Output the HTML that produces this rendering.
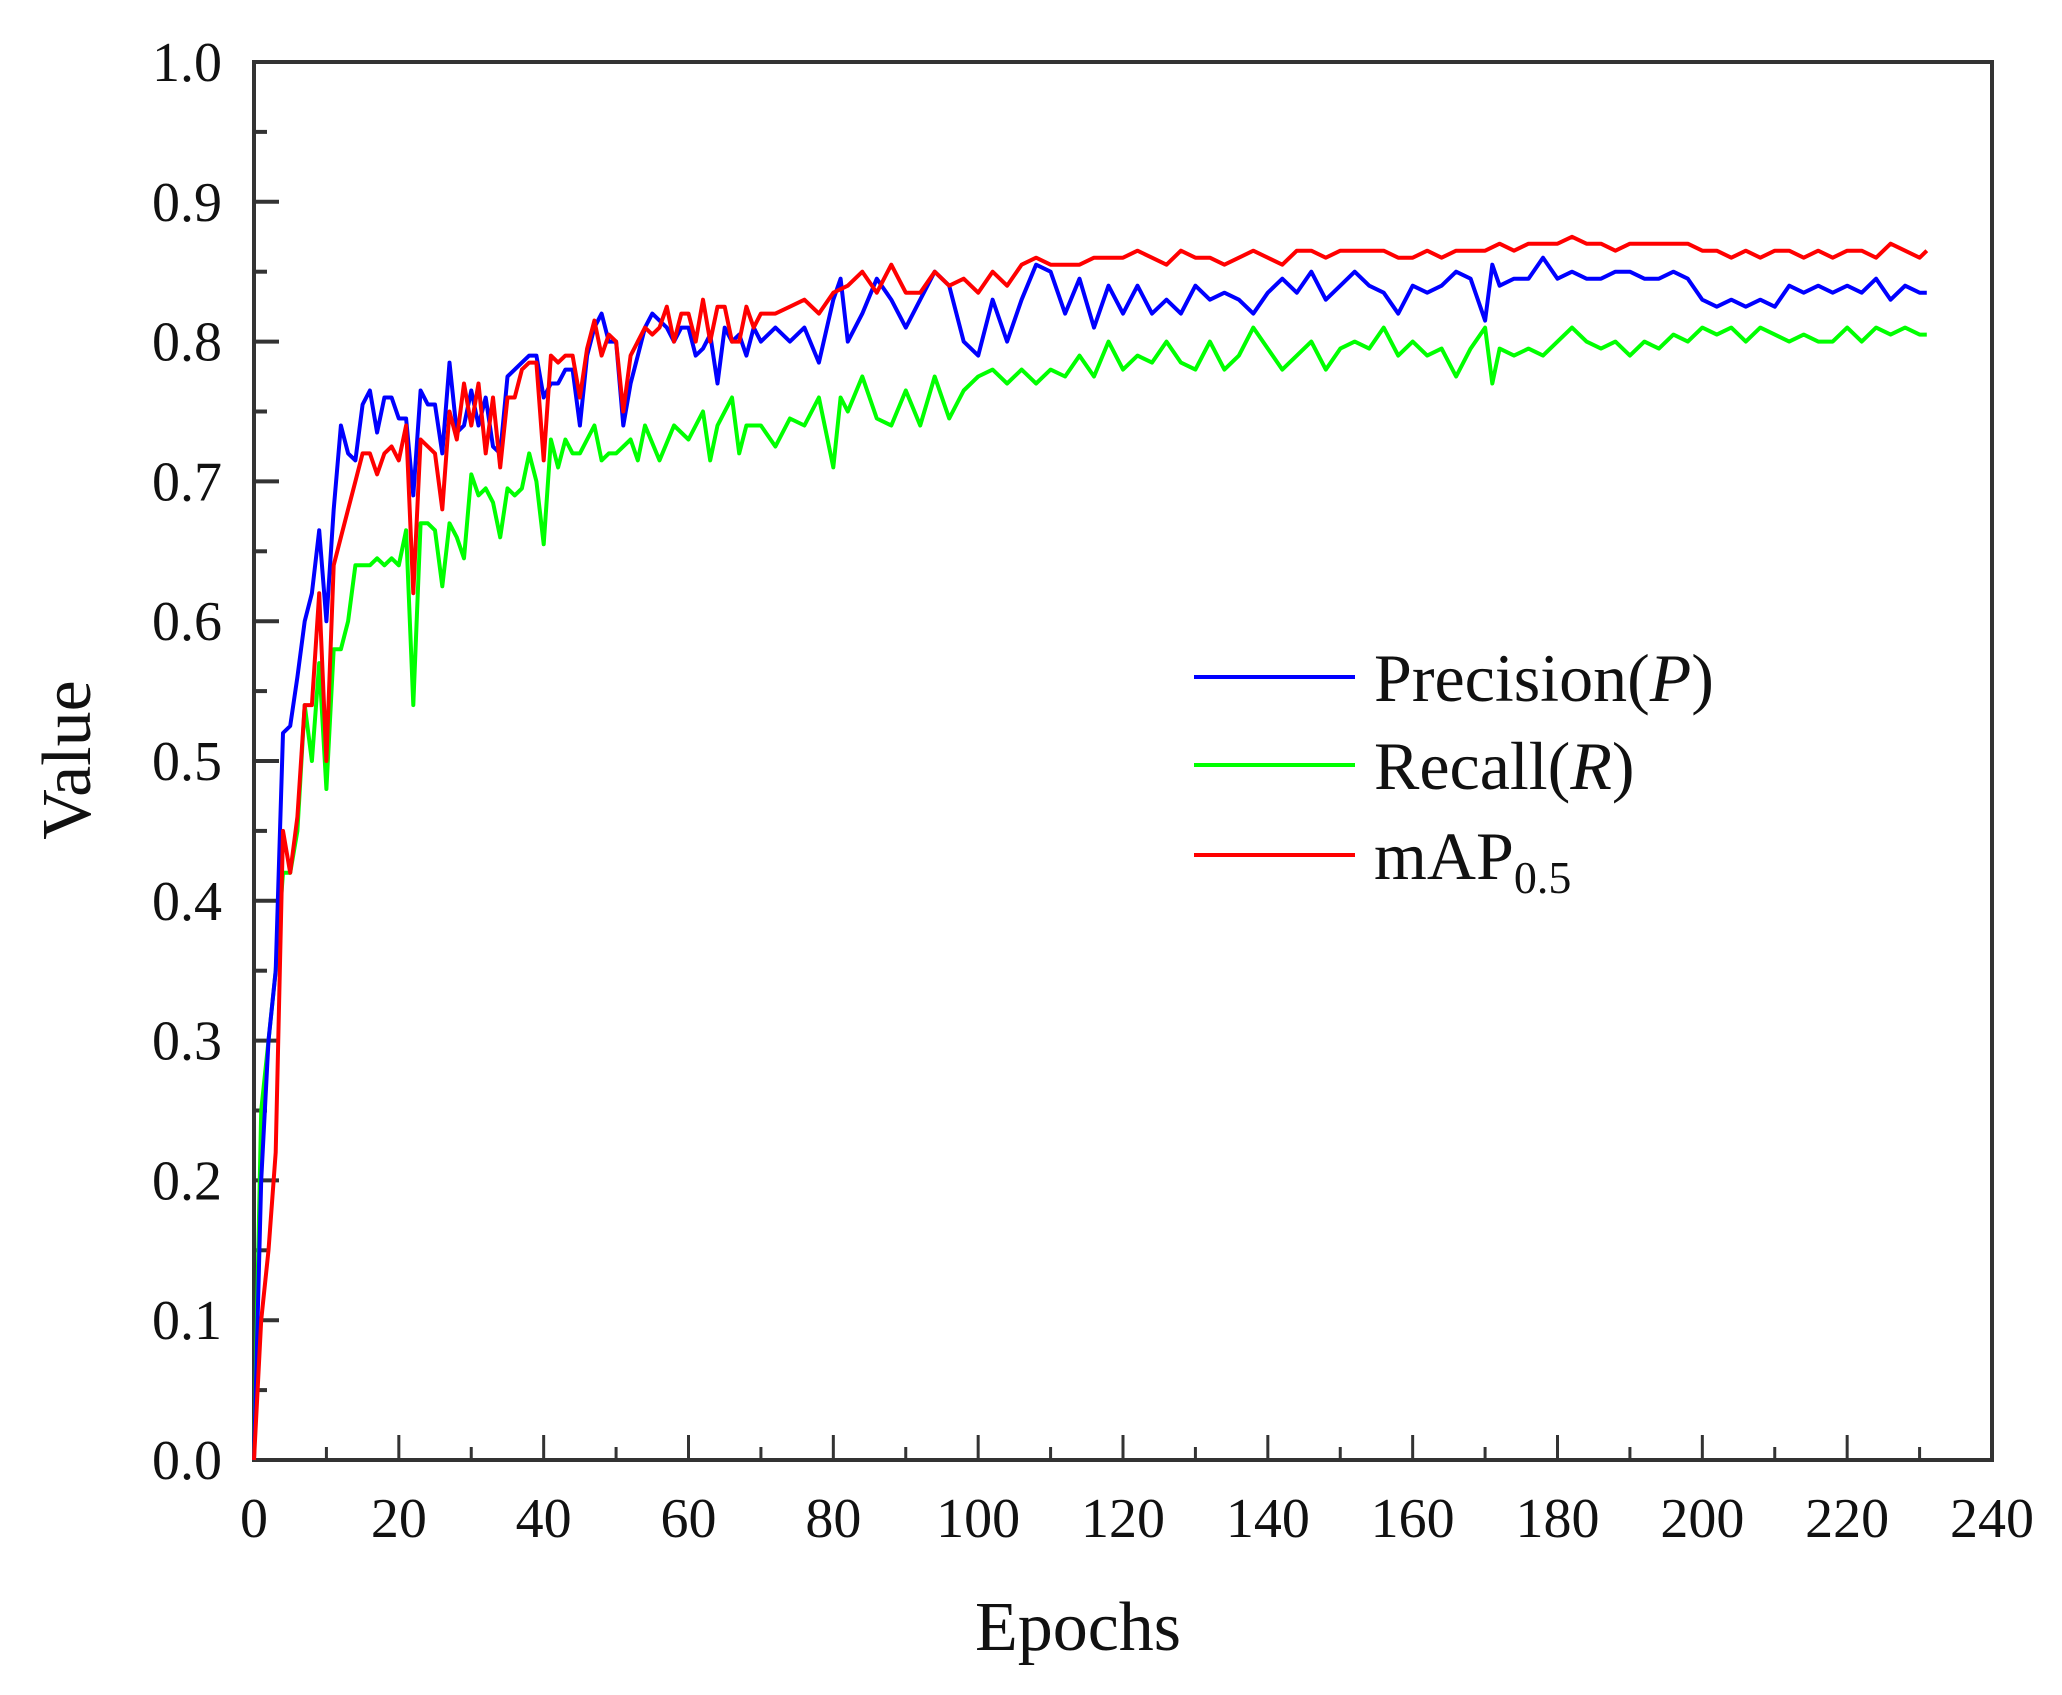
<!DOCTYPE html>
<html><head><meta charset="utf-8"><style>
html,body{margin:0;padding:0;background:#fff;}
svg{display:block;font-family:"Liberation Serif",serif;}
</style></head><body>
<svg id="chart" width="2062" height="1695" viewBox="0 0 2062 1695">
<g id="axes"></g>
<g id="series"></g>
<g id="legend"></g>
</svg>
<script>
const xTicks = [0,20,40,60,80,100,120,140,160,180,200,220,240];
const yTicks = [0.0,0.1,0.2,0.3,0.4,0.5,0.6,0.7,0.8,0.9,1.0];
const yTickLabels = ["0.0","0.1","0.2","0.3","0.4","0.5","0.6","0.7","0.8","0.9","1.0"];
const seriesNames = ["Precision(P)","Recall(R)","mAP0.5"];
const precision = [[0,0.0],[1,0.2],[2,0.3],[3,0.35],[4,0.52],[5,0.525],[6,0.56],[7,0.6],[8,0.62],[9,0.665],[10,0.6],[11,0.68],[12,0.74],[13,0.72],[14,0.715],[15,0.755],[16,0.765],[17,0.735],[18,0.76],[19,0.76],[20,0.745],[21,0.745],[22,0.69],[23,0.765],[24,0.755],[25,0.755],[26,0.72],[27,0.785],[28,0.735],[29,0.74],[30,0.765],[31,0.74],[32,0.76],[33,0.725],[34,0.72],[35,0.775],[36,0.78],[37,0.785],[38,0.79],[39,0.79],[40,0.76],[41,0.77],[42,0.77],[43,0.78],[44,0.78],[45,0.74],[46,0.79],[47,0.81],[48,0.82],[49,0.8],[50,0.8],[51,0.74],[52,0.77],[53,0.79],[54,0.81],[55,0.82],[56,0.815],[57,0.81],[58,0.8],[59,0.81],[60,0.81],[61,0.79],[62,0.795],[63,0.805],[64,0.77],[65,0.81],[66,0.8],[67,0.805],[68,0.79],[69,0.81],[70,0.8],[72,0.81],[74,0.8],[76,0.81],[78,0.785],[80,0.83],[81,0.845],[82,0.8],[84,0.82],[86,0.845],[88,0.83],[90,0.81],[92,0.83],[94,0.85],[96,0.84],[98,0.8],[100,0.79],[102,0.83],[104,0.8],[106,0.83],[108,0.855],[110,0.85],[112,0.82],[114,0.845],[116,0.81],[118,0.84],[120,0.82],[122,0.84],[124,0.82],[126,0.83],[128,0.82],[130,0.84],[132,0.83],[134,0.835],[136,0.83],[138,0.82],[140,0.835],[142,0.845],[144,0.835],[146,0.85],[148,0.83],[150,0.84],[152,0.85],[154,0.84],[156,0.835],[158,0.82],[160,0.84],[162,0.835],[164,0.84],[166,0.85],[168,0.845],[170,0.815],[171,0.855],[172,0.84],[174,0.845],[176,0.845],[178,0.86],[180,0.845],[182,0.85],[184,0.845],[186,0.845],[188,0.85],[190,0.85],[192,0.845],[194,0.845],[196,0.85],[198,0.845],[200,0.83],[202,0.825],[204,0.83],[206,0.825],[208,0.83],[210,0.825],[212,0.84],[214,0.835],[216,0.84],[218,0.835],[220,0.84],[222,0.835],[224,0.845],[226,0.83],[228,0.84],[230,0.835],[231,0.835]];
const recall = [[0,0.0],[1,0.25],[2,0.3],[3,0.35],[4,0.42],[5,0.42],[6,0.45],[7,0.54],[8,0.5],[9,0.57],[10,0.48],[11,0.58],[12,0.58],[13,0.6],[14,0.64],[15,0.64],[16,0.64],[17,0.645],[18,0.64],[19,0.645],[20,0.64],[21,0.665],[22,0.54],[23,0.67],[24,0.67],[25,0.665],[26,0.625],[27,0.67],[28,0.66],[29,0.645],[30,0.705],[31,0.69],[32,0.695],[33,0.685],[34,0.66],[35,0.695],[36,0.69],[37,0.695],[38,0.72],[39,0.7],[40,0.655],[41,0.73],[42,0.71],[43,0.73],[44,0.72],[45,0.72],[46,0.73],[47,0.74],[48,0.715],[49,0.72],[50,0.72],[52,0.73],[53,0.715],[54,0.74],[56,0.715],[58,0.74],[60,0.73],[62,0.75],[63,0.715],[64,0.74],[66,0.76],[67,0.72],[68,0.74],[70,0.74],[72,0.725],[74,0.745],[76,0.74],[78,0.76],[80,0.71],[81,0.76],[82,0.75],[84,0.775],[86,0.745],[88,0.74],[90,0.765],[92,0.74],[94,0.775],[96,0.745],[98,0.765],[100,0.775],[102,0.78],[104,0.77],[106,0.78],[108,0.77],[110,0.78],[112,0.775],[114,0.79],[116,0.775],[118,0.8],[120,0.78],[122,0.79],[124,0.785],[126,0.8],[128,0.785],[130,0.78],[132,0.8],[134,0.78],[136,0.79],[138,0.81],[140,0.795],[142,0.78],[144,0.79],[146,0.8],[148,0.78],[150,0.795],[152,0.8],[154,0.795],[156,0.81],[158,0.79],[160,0.8],[162,0.79],[164,0.795],[166,0.775],[168,0.795],[170,0.81],[171,0.77],[172,0.795],[174,0.79],[176,0.795],[178,0.79],[180,0.8],[182,0.81],[184,0.8],[186,0.795],[188,0.8],[190,0.79],[192,0.8],[194,0.795],[196,0.805],[198,0.8],[200,0.81],[202,0.805],[204,0.81],[206,0.8],[208,0.81],[210,0.805],[212,0.8],[214,0.805],[216,0.8],[218,0.8],[220,0.81],[222,0.8],[224,0.81],[226,0.805],[228,0.81],[230,0.805],[231,0.805]];
const map05 = [[0,0.0],[1,0.1],[2,0.15],[3,0.22],[4,0.45],[5,0.42],[6,0.46],[7,0.54],[8,0.54],[9,0.62],[10,0.5],[11,0.64],[12,0.66],[13,0.68],[14,0.7],[15,0.72],[16,0.72],[17,0.705],[18,0.72],[19,0.725],[20,0.715],[21,0.74],[22,0.62],[23,0.73],[24,0.725],[25,0.72],[26,0.68],[27,0.75],[28,0.73],[29,0.77],[30,0.74],[31,0.77],[32,0.72],[33,0.76],[34,0.71],[35,0.76],[36,0.76],[37,0.78],[38,0.785],[39,0.785],[40,0.715],[41,0.79],[42,0.785],[43,0.79],[44,0.79],[45,0.76],[46,0.795],[47,0.815],[48,0.79],[49,0.805],[50,0.8],[51,0.75],[52,0.79],[53,0.8],[54,0.81],[55,0.805],[56,0.81],[57,0.825],[58,0.8],[59,0.82],[60,0.82],[61,0.8],[62,0.83],[63,0.8],[64,0.825],[65,0.825],[66,0.8],[67,0.8],[68,0.825],[69,0.81],[70,0.82],[72,0.82],[74,0.825],[76,0.83],[78,0.82],[80,0.835],[82,0.84],[84,0.85],[86,0.835],[88,0.855],[90,0.835],[92,0.835],[94,0.85],[96,0.84],[98,0.845],[100,0.835],[102,0.85],[104,0.84],[106,0.855],[108,0.86],[110,0.855],[112,0.855],[114,0.855],[116,0.86],[118,0.86],[120,0.86],[122,0.865],[124,0.86],[126,0.855],[128,0.865],[130,0.86],[132,0.86],[134,0.855],[136,0.86],[138,0.865],[140,0.86],[142,0.855],[144,0.865],[146,0.865],[148,0.86],[150,0.865],[152,0.865],[154,0.865],[156,0.865],[158,0.86],[160,0.86],[162,0.865],[164,0.86],[166,0.865],[168,0.865],[170,0.865],[172,0.87],[174,0.865],[176,0.87],[178,0.87],[180,0.87],[182,0.875],[184,0.87],[186,0.87],[188,0.865],[190,0.87],[192,0.87],[194,0.87],[196,0.87],[198,0.87],[200,0.865],[202,0.865],[204,0.86],[206,0.865],[208,0.86],[210,0.865],[212,0.865],[214,0.86],[216,0.865],[218,0.86],[220,0.865],[222,0.865],[224,0.86],[226,0.87],[228,0.865],[230,0.86],[231,0.865]];

const NS="http://www.w3.org/2000/svg";
const L=254,R=1992,T=62,B=1460;
function xs(v){return L+(v-0)/(240-0)*(R-L);}
function ys(v){return B-(v-0)/(1-0)*(B-T);}
function mk(tag,attrs,parent){const e=document.createElementNS(NS,tag);for(const k in attrs)e.setAttribute(k,attrs[k]);parent.appendChild(e);return e;}
const axes=document.getElementById('axes'),ser=document.getElementById('series'),leg=document.getElementById('legend');

const defs=[[recall,'#00ff00','recall-line'],[precision,'#0000ff','precision-line'],[map05,'#ff0000','map-line']];
for(const d of defs){
  const pts=d[0].map(p=>xs(p[0]).toFixed(1)+','+ys(p[1]).toFixed(1)).join(' ');
  const pl=mk('polyline',{points:pts,fill:'none',stroke:d[1],'stroke-width':4,'stroke-linejoin':'round'},ser);
  
  
}

const fr=mk('rect',{x:L,y:T,width:R-L,height:B-T,fill:'none',stroke:'#333','stroke-width':4},axes);



yTicks.forEach((v,i)=>{
  const y=ys(v);
  const t=mk('line',{x1:L,x2:L+25,y1:y,y2:y,stroke:'#333','stroke-width':4},axes);
  
  
  if(i<yTicks.length-1){
    const ym=ys(v+0.05);
    const m=mk('line',{x1:L,x2:L+13,y1:ym,y2:ym,stroke:'#333','stroke-width':4},axes);
    
    
  }
  const tx=mk('text',{x:222,y:y+19,'text-anchor':'end','font-size':56,fill:'#111'},axes);
  tx.textContent=yTickLabels[i];
  
  
});
xTicks.forEach((v,i)=>{
  const x=xs(v);
  const t=mk('line',{x1:x,x2:x,y1:B,y2:B-25,stroke:'#333','stroke-width':3},axes);
  
  
  if(i<xTicks.length-1){
    const xm=xs(v+10);
    const m=mk('line',{x1:xm,x2:xm,y1:B,y2:B-13,stroke:'#333','stroke-width':3},axes);
    
    
  }
  const tx=mk('text',{x:x,y:1537,'text-anchor':'middle','font-size':56,fill:'#111'},axes);
  tx.textContent=String(v);
  
  
});
const xt=mk('text',{x:1078,y:1650,'text-anchor':'middle','font-size':70,fill:'#111'},axes);
xt.textContent='Epochs';


const yt=mk('text',{x:0,y:0,'text-anchor':'middle','font-size':70,fill:'#111',transform:'translate(90,760) rotate(-90)'},axes);
yt.textContent='Value';



const legendColors=['#0000ff','#00ff00','#ff0000'];
const legendY=[677,765,855];
seriesNames.forEach((n,i)=>{
  const g=mk('g',{},leg);
  
  
  mk('line',{x1:1194,x2:1355,y1:legendY[i],y2:legendY[i],stroke:legendColors[i],'stroke-width':4},g);
  const t=mk('text',{x:1374,y:legendY[i]+24,'font-size':68,fill:'#111'},g);
  if(i===0){t.innerHTML='Precision(<tspan font-style="italic">P</tspan>)';}
  else if(i===1){t.innerHTML='Recall(<tspan font-style="italic">R</tspan>)';}
  else{t.innerHTML='mAP<tspan font-size="46" dy="14">0.5</tspan>';}
});
</script>
</body></html>
